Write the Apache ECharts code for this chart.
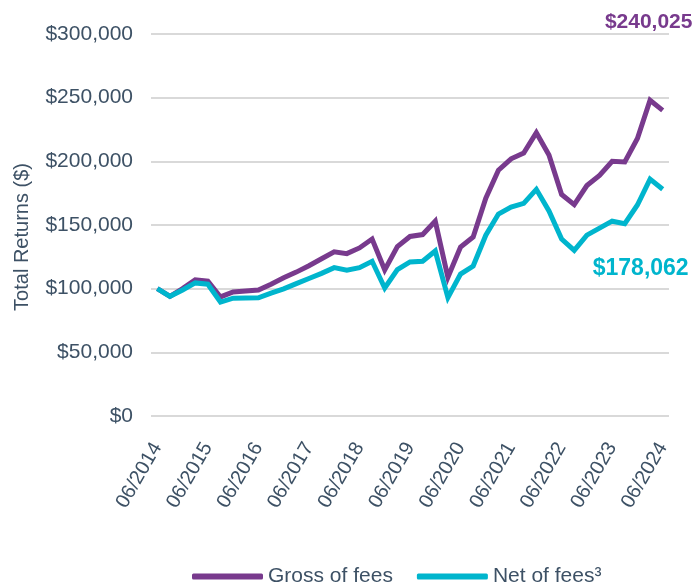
<!DOCTYPE html>
<html>
<head>
<meta charset="utf-8">
<script src="https://cdn.jsdelivr.net/npm/echarts@6/dist/echarts.min.js"></script>
<style>
  html, body { margin: 0; padding: 0; background: #ffffff; }
  #chart { width: 695px; height: 584px; }
</style>
</head>
<body>
<div id="chart"></div>
<script>
// Quarter-end dates, June 2014 to June 2024
const quarters = [
  '06/2014','09/2014','12/2014','03/2015','06/2015','09/2015','12/2015','03/2016',
  '06/2016','09/2016','12/2016','03/2017','06/2017','09/2017','12/2017','03/2018',
  '06/2018','09/2018','12/2018','03/2019','06/2019','09/2019','12/2019','03/2020',
  '06/2020','09/2020','12/2020','03/2021','06/2021','09/2021','12/2021','03/2022',
  '06/2022','09/2022','12/2022','03/2023','06/2023','09/2023','12/2023','03/2024',
  '06/2024'
];

// Growth of $100,000, gross of fees
const grossOfFees = [
  100000, 94000, 100000, 107000, 106000, 93500, 97400, 98200,
  99000, 103500, 108500, 113000, 118000, 123500, 129000, 127500,
  132000, 139000, 114700, 133000, 141000, 142500, 153000, 109000,
  132700, 140600, 171000, 193000, 202000, 206500, 222500, 205000,
  174000, 166000, 181000, 189000, 200000, 199500, 218000, 248000,
  240025
];

// Growth of $100,000, net of fees
const netOfFees = [
  100000, 94000, 99000, 104500, 103500, 89500, 92500, 92700,
  92800, 96500, 99800, 104000, 108000, 112000, 116500, 114500,
  116500, 121500, 100500, 115000, 121000, 121500, 129600, 93000,
  111500, 117800, 142000, 158600, 164000, 167000, 178000, 161000,
  139000, 130000, 142000, 147500, 153000, 151000, 165700, 186000,
  178062
];

// Y axis scale
const yMin = 0;
const yMax = 300000;
const yStep = 50000;

const seriesNames = ['Gross of fees', 'Net of fees\u00B3'];
const PURPLE = '#783a8d';
const TEAL = '#00b5cd';
const TEXT = '#3d5165';
const FONT = '"Liberation Sans", Arial, sans-serif';

const money = v => '$' + Math.round(v).toLocaleString('en-US');
const last = quarters.length - 1;

const chart = echarts.init(document.getElementById('chart'), null, { renderer: 'canvas' });

chart.setOption({
  animation: false,
  backgroundColor: '#ffffff',
  textStyle: { fontFamily: FONT },
  grid: { left: 151, right: 26, top: 34, bottom: 168, containLabel: false },
  xAxis: {
    type: 'category',
    data: quarters,
    boundaryGap: true,
    axisLine: { show: false },
    axisTick: { show: false },
    splitLine: { show: false },
    axisLabel: {
      interval: 3,
      rotate: 60,
      margin: 28,
      color: TEXT,
      fontSize: 20,
      fontFamily: FONT
    }
  },
  yAxis: {
    type: 'value',
    min: yMin,
    max: yMax,
    interval: yStep,
    axisLine: { show: false },
    axisTick: { show: false },
    splitLine: { show: true, lineStyle: { color: '#d9d9d9', width: 2 } },
    axisLabel: {
      margin: 18,
      color: TEXT,
      fontSize: 21,
      fontFamily: FONT,
      formatter: money
    }
  },
  legend: {
    left: 187,
    bottom: -8,
    itemWidth: 71,
    itemHeight: 6,
    itemGap: 24,
    icon: 'roundRect',
    textStyle: { color: TEXT, fontSize: 21, fontFamily: FONT, padding: [0, 0, 0, 0] },
    data: seriesNames
  },
  graphic: [{
    type: 'text',
    x: 22,
    y: 237,
    rotation: Math.PI / 2,
    style: {
      text: 'Total Returns ($)',
      fill: TEXT,
      font: '20px ' + FONT,
      align: 'center',
      verticalAlign: 'middle'
    }
  }],
  series: [
    {
      name: seriesNames[0],
      type: 'line',
      data: grossOfFees,
      showSymbol: false,
      color: PURPLE,
      lineStyle: { color: PURPLE, width: 5, join: 'miter' },
      markPoint: {
        symbol: 'circle',
        symbolSize: 0,
        data: [{
          coord: [last, grossOfFees[last]],
          label: {
            show: true,
            formatter: money(grossOfFees[last]),
            color: PURPLE,
            fontWeight: 'bold',
            fontSize: 21,
            fontFamily: FONT,
            position: 'inside',
            align: 'center',
            verticalAlign: 'middle',
            offset: [-14, -88]
          }
        }]
      }
    },
    {
      name: seriesNames[1],
      type: 'line',
      data: netOfFees,
      showSymbol: false,
      color: TEAL,
      lineStyle: { color: TEAL, width: 5, join: 'miter' },
      markPoint: {
        symbol: 'circle',
        symbolSize: 0,
        data: [{
          coord: [last, netOfFees[last]],
          label: {
            show: true,
            formatter: money(netOfFees[last]),
            color: TEAL,
            fontWeight: 'bold',
            fontSize: 23,
            fontFamily: FONT,
            position: 'inside',
            align: 'center',
            verticalAlign: 'middle',
            offset: [-22, 79]
          }
        }]
      }
    }
  ]
});
</script>
</body>
</html>
